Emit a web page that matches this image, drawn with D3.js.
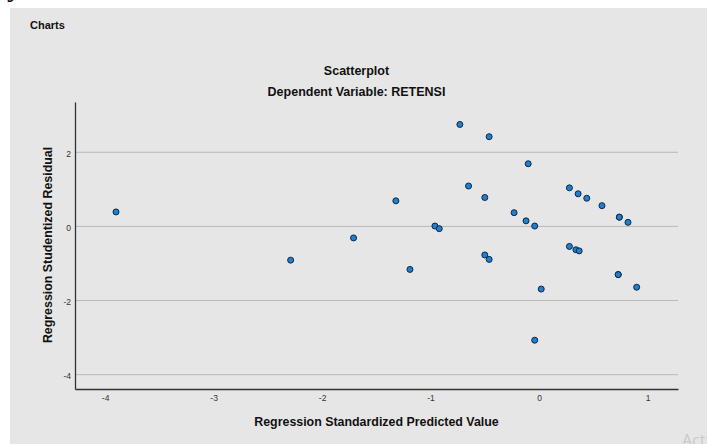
<!DOCTYPE html>
<html>
<head>
<meta charset="utf-8">
<script src="https://cdn.jsdelivr.net/npm/d3@7"></script>
<style>
    body { margin: 0; background: #fff; }
    svg { display: block; font-family: 'Liberation Sans', Arial, sans-serif; }
</style>
</head>
<body>
<div id="chart"></div>
<script>
// values
let predicted = [-3.90, -2.29, -1.71, -1.32, -1.19, -0.96, -0.92, -0.73, -0.65, -0.50,
    -0.50, -0.46, -0.46, -0.23, -0.12, -0.10, -0.04, -0.04, 0.02, 0.28,
    0.28, 0.34, 0.37, 0.36, 0.44, 0.58, 0.74, 0.74, 0.82, 0.73, 0.73, 0.90];
let residual = [0.39, -0.91, -0.31, 0.69, -1.16, 0.01, -0.06, 2.75, 1.09, 0.78,
    -0.77, -0.89, 2.42, 0.37, 0.15, 1.69, 0.01, -3.07, -1.69, 1.04,
    -0.54, -0.63, -0.66, 0.88, 0.76, 0.56, 0.25, 0.25, 0.11, -1.30, -1.30, -1.64];
let xTicks = [-4, -3, -2, -1, 0, 1];
let yTicks = [-4, -2, 0, 2];

let width = 707,
    height = 444;

let svg = d3.select('#chart')
    .append('svg')
    .attr('width', width)
    .attr('height', height);

// grey output panel
svg.append('rect')
    .attr('x', 10)
    .attr('y', 8)
    .attr('width', width - 10)
    .attr('height', height - 8)
    .attr('fill', '#e6e6e6');

// cut-off glyph from the text above the screenshot
svg.append('text')
    .attr('x', 10)
    .attr('y', -4)
    .style('font-family', "'Liberation Serif', serif")
    .style('font-style', 'italic')
    .style('font-size', '30px')
    .attr('fill', '#111')
    .text('y');

svg.append('text')
    .attr('x', 30)
    .attr('y', 29)
    .style('font-size', '11px')
    .style('font-weight', 'bold')
    .attr('fill', '#111')
    .text('Charts');

let x = d3.scaleLinear()
    .domain([-4.278, 1.281])
    .range([75, 678]);

let y = d3.scaleLinear()
    .domain([-4.386, 3.356])
    .range([389, 102]);

// titles
svg.append('text')
    .attr('x', 356.5)
    .attr('y', 75)
    .attr('text-anchor', 'middle')
    .style('font-size', '12.5px')
    .style('font-weight', 'bold')
    .attr('fill', '#111')
    .text('Scatterplot');

svg.append('text')
    .attr('x', 356.5)
    .attr('y', 96)
    .attr('text-anchor', 'middle')
    .style('font-size', '12.5px')
    .style('font-weight', 'bold')
    .attr('fill', '#111')
    .text('Dependent Variable: RETENSI');

// horizontal grid only
svg.append('g')
    .selectAll('line.grid')
    .data(yTicks)
    .enter()
    .append('line')
    .attr('class', 'grid')
    .attr('x1', x.range()[0])
    .attr('x2', x.range()[1])
    .attr('y1', d => y(d))
    .attr('y2', d => y(d))
    .attr('stroke', '#b8b8b8')
    .attr('stroke-width', 1);

// SPSS uses a plain hyphen, not the unicode minus
let fmt = d => String(d);

let xAxis = svg.append('g')
    .attr('transform', 'translate(0,' + y.range()[0] + ')')
    .call(d3.axisBottom(x).tickValues(xTicks).tickSize(0).tickPadding(6).tickFormat(fmt));

let yAxis = svg.append('g')
    .attr('transform', 'translate(' + x.range()[0] + ',0)')
    .call(d3.axisLeft(y).tickValues(yTicks).tickSize(0).tickPadding(4).tickFormat(fmt));

[xAxis, yAxis].forEach(function(g) {
    g.select('.domain')
        .attr('stroke', '#333')
        .attr('stroke-width', 1.3);
    g.selectAll('text')
        .style('font-family', "'Liberation Sans', Arial, sans-serif")
        .style('font-size', '8.5px')
        .attr('fill', '#333');
});
yAxis.selectAll('text').attr('dy', '0.5em');

// axis titles
svg.append('text')
    .attr('x', 376.5)
    .attr('y', 426)
    .attr('text-anchor', 'middle')
    .style('font-size', '12.4px')
    .style('font-weight', 'bold')
    .attr('fill', '#111')
    .text('Regression Standardized Predicted Value');

svg.append('text')
    .attr('transform', 'translate(52,245) rotate(-90)')
    .attr('text-anchor', 'middle')
    .style('font-size', '12.4px')
    .style('font-weight', 'bold')
    .attr('fill', '#111')
    .text('Regression Studentized Residual');

// points
let points = predicted.map(function(d, i) {
    return [d, residual[i]];
});

svg.append('g')
    .selectAll('circle')
    .data(points)
    .enter()
    .append('circle')
    .attr('cx', d => x(d[0]))
    .attr('cy', d => y(d[1]))
    .attr('r', 3)
    .attr('fill', '#1f80d0')
    .attr('stroke', '#0f2740')
    .attr('stroke-width', 1);

// windows watermark peeking in
svg.append('text')
    .attr('x', 682)
    .attr('y', 446)
    .style('font-family', "'Open Sans', sans-serif")
    .style('font-size', '16px')
    .attr('fill', '#c9c9c9')
    .text('Activate Windows');
</script>
</body>
</html>
